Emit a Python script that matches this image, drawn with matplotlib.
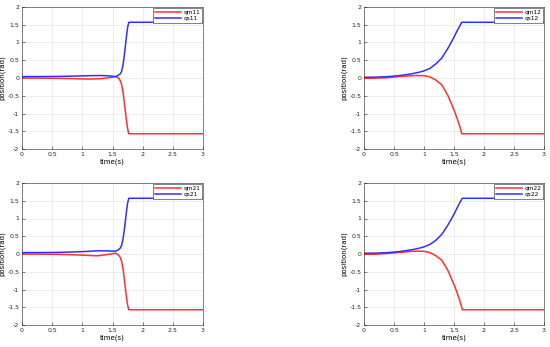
import matplotlib.pyplot as plt

# time points and positions (rad)
t11 = [0, 0.3, 0.6, 0.9, 1.1, 1.3, 1.45, 1.55, 1.6, 1.63, 1.65, 1.67, 1.69, 1.71, 1.73, 1.75, 1.77, 3.0]
qm11 = [0.0, -0.003, -0.01, -0.02, -0.03, -0.02, 0.01, 0.04, 0.0, -0.08, -0.18, -0.35, -0.6, -0.9, -1.18, -1.42, -1.57, -1.57]
qs11 = [0.04, 0.04, 0.045, 0.055, 0.065, 0.07, 0.06, 0.04, 0.08, 0.12, 0.18, 0.33, 0.55, 0.85, 1.15, 1.42, 1.57, 1.57]

t12 = [0, 0.2, 0.4, 0.6, 0.8, 0.9, 1.0, 1.1, 1.2, 1.3, 1.4, 1.5, 1.55, 1.6, 1.63, 3.0]
qm12 = [-0.01, -0.005, 0.01, 0.04, 0.065, 0.07, 0.065, 0.03, -0.06, -0.2, -0.5, -0.9, -1.13, -1.38, -1.57, -1.57]
qs12 = [0.02, 0.025, 0.04, 0.07, 0.12, 0.155, 0.2, 0.27, 0.4, 0.57, 0.84, 1.15, 1.32, 1.48, 1.57, 1.57]

t21 = [0, 0.3, 0.6, 0.9, 1.1, 1.25, 1.4, 1.5, 1.55, 1.6, 1.63, 1.65, 1.67, 1.69, 1.71, 1.73, 1.75, 1.77, 3.0]
qm21 = [0.0, -0.003, -0.01, -0.025, -0.04, -0.05, -0.02, 0.01, 0.02, -0.03, -0.1, -0.2, -0.37, -0.62, -0.92, -1.2, -1.43, -1.57, -1.57]
qs21 = [0.04, 0.04, 0.045, 0.06, 0.075, 0.09, 0.09, 0.08, 0.08, 0.12, 0.17, 0.24, 0.38, 0.6, 0.88, 1.17, 1.43, 1.57, 1.57]

t22 = [0, 0.2, 0.4, 0.6, 0.8, 0.9, 1.0, 1.1, 1.2, 1.3, 1.4, 1.5, 1.55, 1.6, 1.64, 3.0]
qm22 = [-0.01, -0.005, 0.015, 0.045, 0.075, 0.08, 0.075, 0.04, -0.05, -0.18, -0.47, -0.86, -1.08, -1.33, -1.57, -1.57]
qs22 = [0.02, 0.025, 0.04, 0.07, 0.12, 0.155, 0.2, 0.27, 0.39, 0.56, 0.82, 1.12, 1.29, 1.46, 1.57, 1.57]

panels = [
    (t11, qm11, qs11, 'qm11', 'qs11'),
    (t12, qm12, qs12, 'qm12', 'qs12'),
    (t21, qm21, qs21, 'qm21', 'qs21'),
    (t22, qm22, qs22, 'qm22', 'qs22'),
]

# axes rectangles in figure pixels (left, top, right, bottom), measured from the top
W, H = 550, 347
boxes = [(22, 7, 203, 149), (364, 7, 544, 149), (22, 183, 203, 325), (364, 183, 544, 325)]

fig = plt.figure(figsize=(5.5, 3.47), dpi=100)

for (t, qm, qs, lm, ls), (x0, y0, x1, y1) in zip(panels, boxes):
    ax = fig.add_axes([x0 / W, 1 - y1 / H, (x1 - x0) / W, (y1 - y0) / H])
    ax.plot(t, qm, color='#ff3030', linewidth=1.1, label=lm)
    ax.plot(t, qs, color='#3030ff', linewidth=1.1, label=ls)
    ax.set_xlim(0, 3)
    ax.set_ylim(-2, 2)
    ax.set_xticks([0, 0.5, 1, 1.5, 2, 2.5, 3])
    ax.set_xticklabels(['0', '0.5', '1', '1.5', '2', '2.5', '3'])
    ax.set_yticks([-2, -1.5, -1, -0.5, 0, 0.5, 1, 1.5, 2])
    ax.set_yticklabels(['-2', '-1.5', '-1', '-0.5', '0', '0.5', '1', '1.5', '2'])
    ax.tick_params(direction='in', length=2, width=0.4, labelsize=4.5, colors='#262626', pad=2)
    ax.grid(True, color='#e6e6e6', linewidth=0.5)
    for s in ax.spines.values():
        s.set_color('#262626')
        s.set_linewidth(0.4)
    ax.set_xlabel('time(s)', fontsize=5, labelpad=1)
    ax.set_ylabel('position(rad)', fontsize=5, labelpad=1)
    leg = ax.legend(loc='upper right', fontsize=4.2, handlelength=4.5, borderpad=0.3,
                    labelspacing=0.2, handletextpad=0.4, fancybox=False, framealpha=1,
                    borderaxespad=0.15)
    leg.get_frame().set_linewidth(0.4)
    leg.get_frame().set_edgecolor('#262626')

fig.savefig('out.png', dpi=100)
